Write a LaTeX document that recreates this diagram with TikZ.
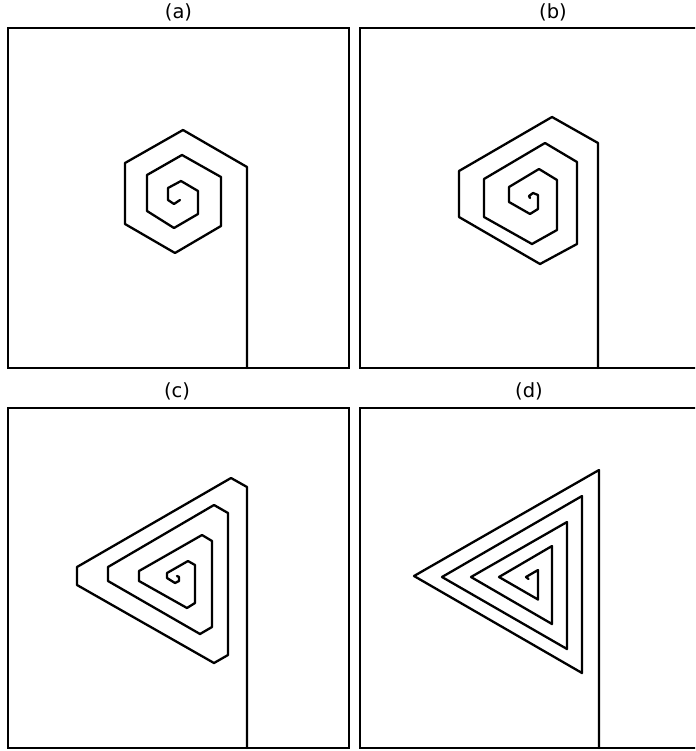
\documentclass[tikz,border=0pt]{standalone}
\usepackage{fontspec}
\setmainfont{DejaVu Sans}
\begin{document}
\begin{tikzpicture}[x=1pt,y=-1pt,
  panel/.style={line width=2pt, line join=miter},
  spiral/.style={line width=2.3pt, line join=round, line cap=round},
  lbl/.style={font=\fontsize{19.5}{23}\selectfont, anchor=base, inner sep=0pt}]
\useasboundingbox (0,0) rectangle (695,751);
\clip (0,0) rectangle (695,751);
% panel frames
\draw[panel] (8,28) rectangle (349,368);
\draw[panel] (360,28) rectangle (699,368);
\draw[panel] (8,408) rectangle (349,748);
\draw[panel] (360,408) rectangle (699,748);
% labels
\node[lbl] (la) at (178.5,18.5) {(a)};
\node[lbl] (lb) at (553,18.5) {(b)};
\node[lbl] (lc) at (177,397.5) {(c)};
\node[lbl] (ld) at (529,397.5) {(d)};
% (a) hexagonal spiral
\draw[spiral] (247,368) -- (247,167) -- (183,130) -- (125,163) -- (125,224)
  -- (175,253) -- (221,226) -- (221,177) -- (182,155) -- (147,175) -- (147,211)
  -- (174,228) -- (198,214) -- (198,191) -- (181,181) -- (168,188) -- (168,200)
  -- (174,204) -- (180,200);
% (b)
\draw[spiral] (598,368) -- (598,143) -- (552,117) -- (459,171) -- (459,217)
  -- (540,264) -- (577,244) -- (577,162) -- (545,143) -- (484,179) -- (484,217)
  -- (532,244) -- (557,230) -- (557,180) -- (539,169) -- (509,187) -- (509,202)
  -- (530,214) -- (538,209) -- (538,195) -- (533,193) -- (529,196) -- (530,198);
% (c)
\draw[spiral] (247,748) -- (247,487) -- (231,478) -- (77,567) -- (77,585)
  -- (214,663) -- (228,655) -- (228,513) -- (214,505) -- (108,567) -- (108,581)
  -- (200,634) -- (212,627) -- (212,541) -- (202,535) -- (139,571) -- (139,581)
  -- (187,608) -- (195,603) -- (195,565) -- (188,561) -- (167,573) -- (167,578)
  -- (175,583) -- (179,581) -- (179,577) -- (177,576);
% (d) triangular spiral
\draw[spiral] (599,748) -- (599,470) -- (414,576) -- (582,673) -- (582,496)
  -- (442,577) -- (567,649) -- (567,522) -- (471,577) -- (552,624) -- (552,546)
  -- (499,577) -- (538,599.5) -- (538,570) -- (526,577) -- (528.5,579);
\end{tikzpicture}
\end{document}
